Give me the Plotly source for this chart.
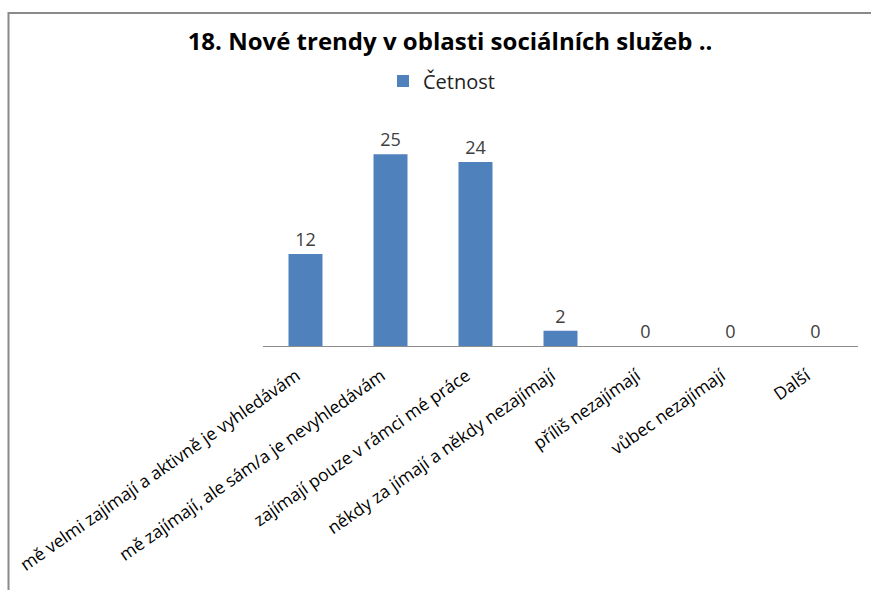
import plotly.graph_objects as go

categories = [
    "mě velmi zajímají a aktivně je vyhledávám",
    "mě zajímají, ale sám/a je nevyhledávám",
    "zajímají pouze v rámci mé práce",
    "někdy za jímají a někdy nezajímají",
    "příliš nezajímají",
    "vůbec nezajímají",
    "Další",
]
values = [12, 25, 24, 2, 0, 0, 0]
series_name = "Četnost"
title_text = "18. Nové trendy v oblasti sociálních služeb .."

FONT = "Open Sans"
W, H = 871, 590

fig = go.Figure()
fig.add_trace(go.Bar(
    x=categories,
    y=values,
    name=series_name,
    marker=dict(color="#4F81BD", line=dict(width=0)),
    width=0.4,
    text=[str(v) for v in values],
    textposition="outside",
    textfont=dict(family=FONT, size=18, color="#404040"),
    cliponaxis=False,
    showlegend=True,
))

fig.update_layout(
    width=W,
    height=H,
    paper_bgcolor="white",
    plot_bgcolor="white",
    margin=dict(l=263, r=13, t=116, b=244, autoexpand=False),
    title=dict(
        text="<b>" + title_text + "</b>",
        x=450 / W, xref="container", xanchor="center",
        y=1 - 42 / H, yref="container", yanchor="middle",
        font=dict(family=FONT, size=24, color="black"),
    ),
    legend=dict(
        orientation="h",
        x=383 / W, xref="container", xanchor="left",
        y=1 - 81 / H, yref="container", yanchor="middle",
        font=dict(family=FONT, size=20, color="#222222"),
        itemwidth=30,
    ),
    font=dict(family=FONT),
    bargap=0.6,
)

fig.update_xaxes(
    showline=True, linecolor="#8c8c8c", linewidth=1,
    ticks="", tickangle=-35,
    ticklabelstandoff=12, ticklabelshift=-9,
    tickfont=dict(family=FONT, size=17.4, color="black"),
    showgrid=False, automargin=False,
)
fig.update_yaxes(
    range=[0, 30], visible=False, showgrid=False, zeroline=False, automargin=False,
)

# outer chart frame
fig.add_shape(
    type="rect", xref="paper", yref="paper",
    x0=(8.5 - 263) / 595, x1=(880 - 263) / 595,
    y0=(590 - 600 - 244) / 230, y1=(590 - 13 - 244) / 230,
    line=dict(color="#8a8a8a", width=2), fillcolor="rgba(0,0,0,0)", layer="below",
)

fig.write_html("out.html")
